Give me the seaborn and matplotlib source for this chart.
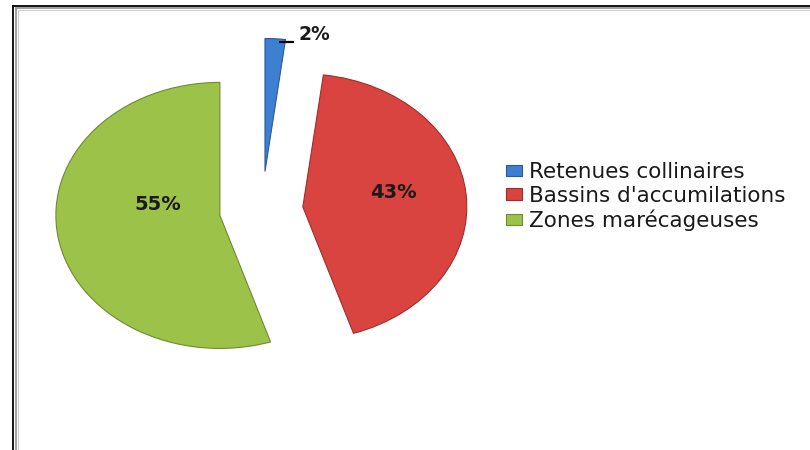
import matplotlib
matplotlib.use("Agg")
import matplotlib.pyplot as plt
from matplotlib.lines import Line2D
import seaborn as sns

categories = ["Retenues collinaires", "Bassins d'accumilations", "Zones marécageuses"]
values = [2, 43, 55]
pct_labels = ["2%", "43%", "55%"]

sns.set_theme(style="white")
plt.rcParams["font.family"] = ["DejaVu Sans"]

colors = ["#3D7FD0", "#D94440", "#9DC24A"]
edges = ["#2A5A95", "#9C2F2C", "#6E8A30"]
explode = [0.29, 0.25, 0.26]

W, H = 810, 450
fig = plt.figure(figsize=(W / 100, H / 100), dpi=100)
fig.patch.set_facecolor("white")
ax = fig.add_axes([0, 0, 1, 1])

wedges, _ = ax.pie(values, colors=colors, startangle=90, counterclock=False,
                   explode=explode, radius=1.0,
                   wedgeprops=dict(linewidth=0.8))
for w, ec in zip(wedges, edges):
    w.set_edgecolor(ec)

# elliptical pie like the reference (rx ~164px, ry ~133px), centre at (262,210)
cx, cy, rx, ry = 262, 210, 164, 133
ax.set_aspect("auto")
ax.set_xlim((0 - cx) / rx, (W - cx) / rx)
ax.set_ylim((cy - H) / ry, (cy - 0) / ry)
ax.axis("off")

def px(x, y):
    return (x - cx) / rx, (cy - y) / ry

# in-slice labels
lab_kw = dict(fontsize=14, fontweight="bold", color="#1a1a1a", ha="center", va="center")
ax.text(*px(158, 205), pct_labels[2], **lab_kw)
ax.text(*px(393, 193), pct_labels[1], **lab_kw)

# leader line + outside label for the small slice
x0, y0 = px(279, 42)
x1, y1 = px(294, 42)
ax.plot([x0, x1], [y0, y1], color="black", lw=1.6, solid_capstyle="butt")
ax.text(*px(298, 35), pct_labels[0], fontsize=13.5, fontweight="bold",
        color="#1a1a1a", ha="left", va="center")

leg = ax.legend(wedges, categories, loc="upper left",
                bbox_to_anchor=(506 / W, 1 - 162 / H), bbox_transform=fig.transFigure,
                frameon=False, fontsize=15.5, handlelength=0.75, handleheight=0.42,
                handletextpad=0.32, labelspacing=0.17, borderpad=0, borderaxespad=0)
for t in leg.get_texts():
    t.set_color("#1a1a1a")

# chart frame (double line, top & left visible)
def hline(y, color, lw, x_start):
    fig.add_artist(Line2D([x_start / W, 1], [1 - y / H, 1 - y / H],
                          transform=fig.transFigure, color=color, lw=lw * 0.72,
                          solid_capstyle="butt"))

def vline(x, color, lw, y_start):
    fig.add_artist(Line2D([x / W, x / W], [1 - y_start / H, 0],
                          transform=fig.transFigure, color=color, lw=lw * 0.72,
                          solid_capstyle="butt"))

hline(5.7, "black", 1.8, 11.8)
vline(12.7, "black", 1.8, 4.8)
hline(8.3, "#8a8a8a", 1.6, 15.0)
vline(15.9, "#8a8a8a", 1.6, 7.5)
hline(10.2, "#cfcfcf", 1.0, 17.3)
vline(17.8, "#cfcfcf", 1.0, 9.7)

fig.savefig("out.png", dpi=100, facecolor="white")
